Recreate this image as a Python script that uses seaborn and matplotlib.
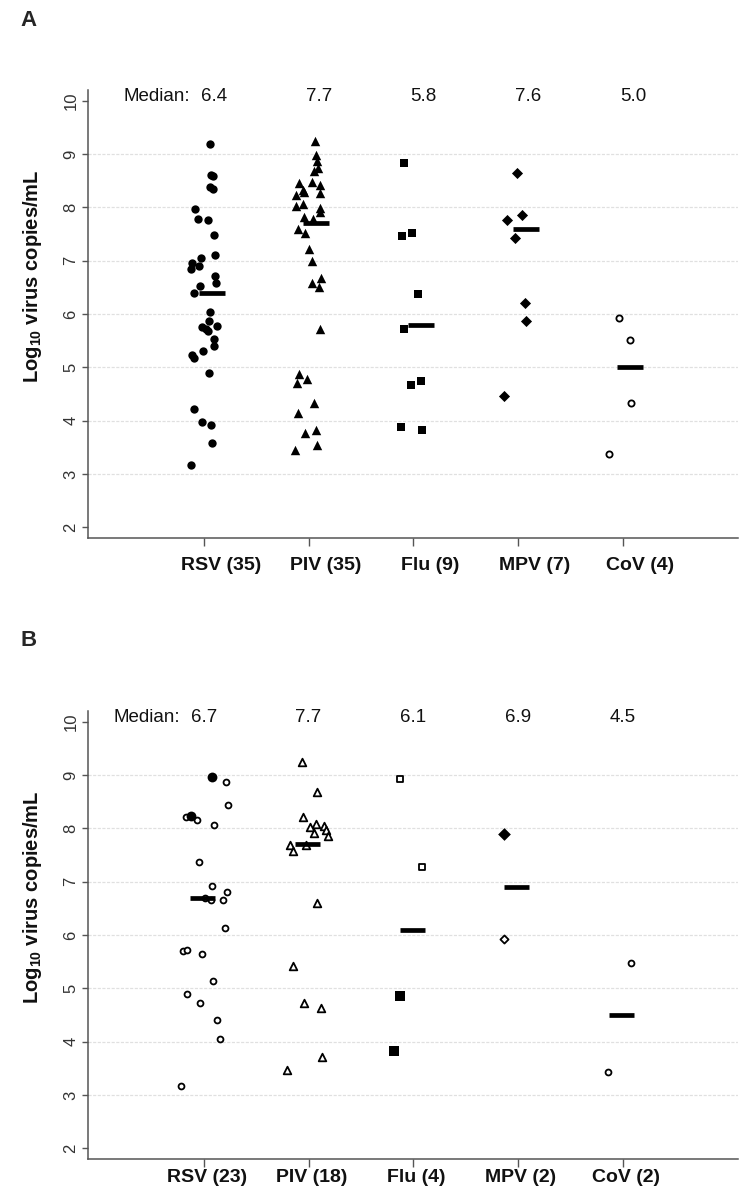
import numpy as np
import pandas as pd
import matplotlib
matplotlib.use("Agg")
import matplotlib.pyplot as plt
import matplotlib.transforms as mtransforms
import seaborn as sns

# ---------------- data ----------------
categories_a = ["RSV (35)", "PIV (35)", "Flu (9)", "MPV (7)", "CoV (4)"]
categories_b = ["RSV (23)", "PIV (18)", "Flu (4)", "MPV (2)", "CoV (2)"]
medians_a = [6.4, 7.7, 5.8, 7.6, 5.0]
medians_b = [6.7, 7.7, 6.1, 6.9, 4.5]
y_ticks = [2, 3, 4, 5, 6, 7, 8, 9, 10]
grid_levels = [3, 4, 5, 6, 7, 8, 9]

# Panel A values (log10 copies/mL) and horizontal jitter
rsv_a = [9.19, 8.60, 8.58, 8.39, 8.34, 7.96, 7.78, 7.77, 7.48, 7.10, 7.05, 6.96,
         6.90, 6.85, 6.72, 6.59, 6.52, 6.40, 6.03, 5.87, 5.75, 5.72, 5.69, 5.78,
         5.53, 5.40, 5.23, 5.18, 5.31, 4.90, 4.22, 3.98, 3.92, 3.58, 3.17]
rsv_a_jit = [0.06, 0.07, 0.09, 0.06, 0.09, -0.08, -0.06, 0.04, 0.10, 0.11, -0.03, -0.11,
             -0.05, -0.12, 0.11, 0.12, -0.04, -0.09, 0.06, 0.05, -0.02, 0.02, 0.04, 0.13,
             0.10, 0.10, -0.11, -0.09, -0.01, 0.05, -0.09, -0.02, 0.07, 0.08, -0.12]
piv_a = [9.25, 8.99, 8.87, 8.69, 8.74, 8.46, 8.48, 8.42, 8.33, 8.24, 8.29, 8.27,
         8.02, 8.06, 7.99, 7.91, 7.81, 7.79, 7.60, 7.52, 7.21, 7.00, 6.67, 6.58,
         6.51, 5.71, 4.88, 4.71, 4.78, 4.33, 4.14, 3.76, 3.83, 3.55, 3.45]
piv_a_jit = [0.06, 0.07, 0.08, 0.05, 0.09, -0.09, 0.03, 0.11, -0.05, -0.12, -0.04, 0.11,
             -0.12, -0.05, 0.11, 0.11, -0.04, 0.04, -0.10, -0.03, 0.00, 0.03, 0.12, 0.03,
             0.10, 0.11, -0.09, -0.11, -0.01, 0.05, -0.10, -0.03, 0.07, 0.08, -0.13]
flu_a = [8.83, 7.47, 7.51, 6.37, 5.71, 4.67, 4.74, 3.88, 3.82]
flu_a_jit = [-0.09, -0.11, -0.01, 0.05, -0.09, -0.02, 0.07, -0.12, 0.08]
mpv_a = [8.65, 7.77, 7.85, 7.43, 6.20, 5.86, 4.47]
mpv_a_jit = [-0.01, -0.10, 0.04, -0.03, 0.07, 0.08, -0.13]
cov_a = [5.92, 5.52, 4.33, 3.37]
cov_a_jit = [-0.03, 0.07, 0.08, -0.13]

# Panel B values, jitter and filled (1) / open (0) symbols
rsv_b = [8.96, 8.86, 8.44, 8.21, 8.23, 8.16, 8.06, 7.37, 6.92, 6.80, 6.69, 6.65,
         6.65, 6.13, 5.70, 5.72, 5.64, 5.13, 4.89, 4.73, 4.40, 4.05, 3.17]
rsv_b_jit = [0.08, 0.21, 0.23, -0.17, -0.12, -0.07, 0.10, -0.05, 0.08, 0.22, 0.01, 0.07,
             0.18, 0.20, -0.20, -0.16, -0.02, 0.09, -0.16, -0.04, 0.13, 0.15, -0.22]
rsv_b_filled = [1, 0, 0, 0, 1, 0, 0, 0, 0, 0, 0, 0,
                0, 0, 0, 0, 0, 0, 0, 0, 0, 0, 0]
piv_b = [9.24, 8.68, 8.21, 8.09, 8.02, 8.05, 7.91, 7.96, 7.86, 7.68, 7.57, 7.68,
         6.60, 5.41, 4.73, 4.63, 3.72, 3.47]
piv_b_jit = [-0.06, 0.08, -0.05, 0.07, 0.01, 0.15, 0.05, 0.17, 0.19, -0.18, -0.15, -0.02,
             0.08, -0.15, -0.04, 0.12, 0.13, -0.21]
piv_b_filled = [0] * 18
flu_b = [8.93, 7.27, 4.85, 3.82]
flu_b_jit = [-0.13, 0.08, -0.13, -0.18]
flu_b_filled = [0, 0, 1, 1]
mpv_b = [7.90, 5.92]
mpv_b_jit = [-0.13, -0.13]
mpv_b_filled = [1, 0]
cov_b = [5.48, 3.43]
cov_b_jit = [0.08, -0.14]
cov_b_filled = [0, 0]

markers = ["o", "^", "s", "D", "o"]
# ---------------- style ----------------
sns.set_style("white")
plt.rcParams["font.family"] = ["Liberation Sans", "DejaVu Sans"]
plt.rcParams["mathtext.fontset"] = "custom"
plt.rcParams["mathtext.rm"] = "Liberation Sans"
plt.rcParams["mathtext.bf"] = "Liberation Sans:bold"

fig = plt.figure(figsize=(7.4, 12), dpi=100)
ax_a = fig.add_axes([0.1189, 0.5517, 0.878, 0.3733])
ax_b = fig.add_axes([0.1189, 0.0342, 0.878, 0.3733])

size_a = {"o": 36, "^": 46, "s": 36, "D": 32}
size_b_open = {"o": 18, "^": 30, "s": 20, "D": 17}
size_b_fill = {"o": 50, "^": 46, "s": 42, "D": 42}


def setup_axes(ax, cats, label_dx_px, label_pad):
    ax.set_xlim(-1.107, 5.1)
    ax.set_ylim(1.8, 10.2)
    for v in grid_levels:
        ax.axhline(v, color="#e0e0e0", lw=0.9, ls=(0, (2.5, 1.2)), zorder=0)
    ax.set_xticks(range(len(cats)))
    ax.set_xticklabels(cats, fontsize=14, fontweight="bold", color="#111111")
    ax.set_yticks(y_ticks)
    ax.set_yticklabels([str(t) for t in y_ticks], fontsize=12, color="#333333")
    ax.tick_params(axis="x", length=6, width=1, color="#555555", pad=label_pad,
                   direction="out", bottom=True)
    ax.tick_params(axis="y", length=4.5, width=1, color="#555555", pad=2.5,
                   direction="out", left=True, labelrotation=90)
    for lbl in ax.get_yticklabels():
        lbl.set_va("center")
    offset = mtransforms.ScaledTranslation(label_dx_px / 100.0, 0, fig.dpi_scale_trans)
    for lbl in ax.get_xticklabels():
        lbl.set_transform(lbl.get_transform() + offset)
    for side in ["top", "right"]:
        ax.spines[side].set_visible(False)
    for side in ["left", "bottom"]:
        ax.spines[side].set_color("#555555")
        ax.spines[side].set_linewidth(1.1)
    ax.set_xlabel("")
    ax.set_ylabel(r"Log$_{\mathbf{10}}$ virus copies/mL", fontsize=14.5,
                  fontweight="bold", color="#111111")
    ax.yaxis.set_label_coords(-0.068, 0.585)


def scatter_group(ax, idx, vals, jit, marker, s, face, lw):
    df = pd.DataFrame({"x": idx + np.asarray(jit, dtype=float), "y": vals})
    sns.scatterplot(data=df, x="x", y="y", marker=marker, s=s, color=face,
                    edgecolor="black", linewidth=lw, ax=ax, legend=False, zorder=3)


# ---------------- panel A ----------------
groups_a = [(rsv_a, rsv_a_jit), (piv_a, piv_a_jit), (flu_a, flu_a_jit),
            (mpv_a, mpv_a_jit), (cov_a, cov_a_jit)]
for i, (vals, jit) in enumerate(groups_a):
    m = markers[i]
    if i == 4:
        scatter_group(ax_a, i, vals, jit, "o", 20, "white", 1.3)
    else:
        scatter_group(ax_a, i, vals, jit, m, size_a[m], "black", 0)
ax_a.hlines(medians_a, [i - 0.05 for i in range(5)], [i + 0.20 for i in range(5)],
            colors="black", lw=3.4, zorder=4)
setup_axes(ax_a, categories_a, 17, 8)
for i, med in enumerate(medians_a):
    ax_a.text(i + 0.10, 10.07, f"{med:.1f}", ha="center", va="center",
              fontsize=13.5, color="#111111")
ax_a.text(-0.13, 10.07, "Median:", ha="right", va="center", fontsize=13.5,
          color="#111111")

# ---------------- panel B ----------------
groups_b = [(rsv_b, rsv_b_jit, rsv_b_filled), (piv_b, piv_b_jit, piv_b_filled),
            (flu_b, flu_b_jit, flu_b_filled), (mpv_b, mpv_b_jit, mpv_b_filled),
            (cov_b, cov_b_jit, cov_b_filled)]
for i, (vals, jit, filled) in enumerate(groups_b):
    m = markers[i]
    vals = np.asarray(vals)
    jit = np.asarray(jit)
    filled = np.asarray(filled).astype(bool)
    if (~filled).any():
        scatter_group(ax_b, i, vals[~filled], jit[~filled], m, size_b_open[m], "white", 1.3)
    if filled.any():
        scatter_group(ax_b, i, vals[filled], jit[filled], m, size_b_fill[m], "black", 0)
ax_b.hlines(medians_b, [i - 0.13 for i in range(5)], [i + 0.11 for i in range(5)],
            colors="black", lw=3.4, zorder=4)
setup_axes(ax_b, categories_b, 3, 1.5)
for i, med in enumerate(medians_b):
    ax_b.text(i, 10.07, f"{med:.1f}", ha="center", va="center",
              fontsize=13.5, color="#111111")
ax_b.text(-0.23, 10.07, "Median:", ha="right", va="center", fontsize=13.5,
          color="#111111")

fig.text(20 / 740, 1 - 20 / 1200, "A", fontsize=16, fontweight="bold",
         ha="left", va="center")
fig.text(20 / 740, 1 - 641 / 1200, "B", fontsize=16, fontweight="bold",
         ha="left", va="center")

fig.savefig("out.png", dpi=100)
